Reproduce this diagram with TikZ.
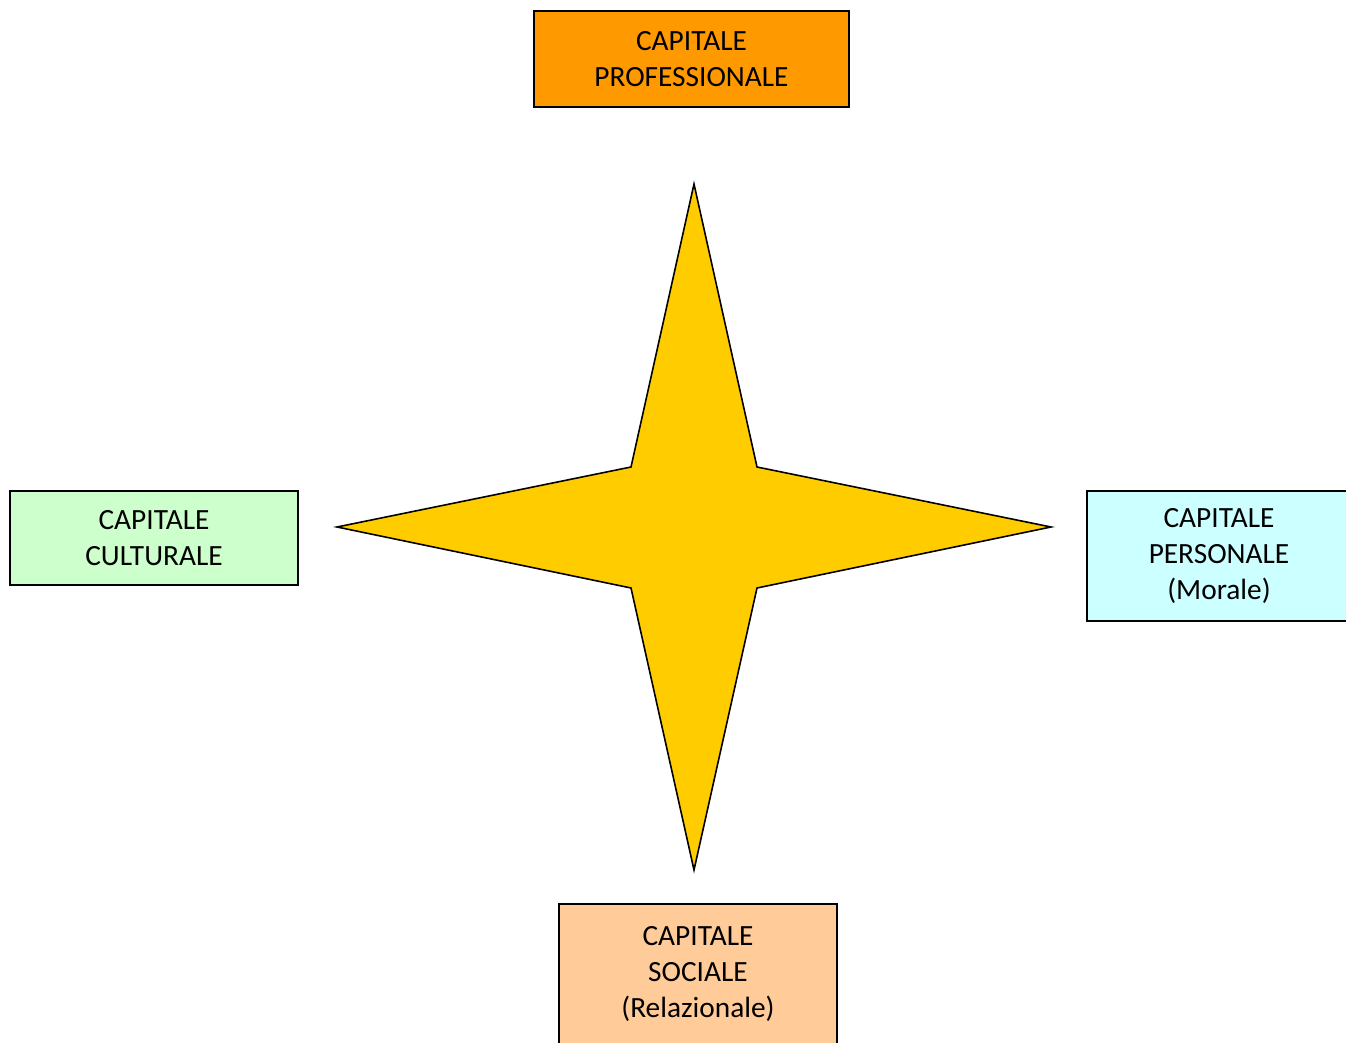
\documentclass[tikz,border=0pt]{standalone}
\usepackage{fontspec}
\setmainfont{Carlito}
\usepackage{xcolor}
\usepackage{tikz}
\usetikzlibrary{positioning}

\definecolor{profcol}{HTML}{FF9900}
\definecolor{cultcol}{HTML}{CCFFCC}
\definecolor{perscol}{HTML}{CCFFFF}
\definecolor{sociocol}{HTML}{FFCC99}
\definecolor{starcol}{HTML}{FFCC00}

\begin{document}
\begin{tikzpicture}[
    x=0.02cm, y=-0.02cm,
    capbox/.style={draw, line width=0.9pt, align=center, inner sep=0pt, font=\fontsize{16.7}{20.5}\selectfont},
    starline/.style={draw, line width=0.9pt, line join=miter, fill=starcol},
]
\clip (0,0) rectangle (1346,1043);
\node[capbox, fill=profcol, minimum width=6.3cm, minimum height=1.92cm] (prof) at (691.5,59) {CAPITALE\\PROFESSIONALE};
\node[capbox, fill=cultcol, minimum width=5.76cm, minimum height=1.88cm] (cult) at (154,538) {CAPITALE\\CULTURALE};
\node[capbox, fill=perscol, minimum width=5.28cm, minimum height=2.6cm] (pers) at (1219,556) {CAPITALE\\PERSONALE\\(Morale)};
\node[capbox, fill=sociocol, minimum width=5.56cm, minimum height=2.8cm] (socio) at (698,974) {CAPITALE\\SOCIALE\\(Relazionale)};
% four-pointed star in the middle
\coordinate (star) at (694,527);
\path[starline] (694,184) -- (757,467) -- (1051,527) -- (757,588)
    -- (694,870) -- (631,588) -- (337,527) -- (631,467) -- cycle;
\end{tikzpicture}
\end{document}
